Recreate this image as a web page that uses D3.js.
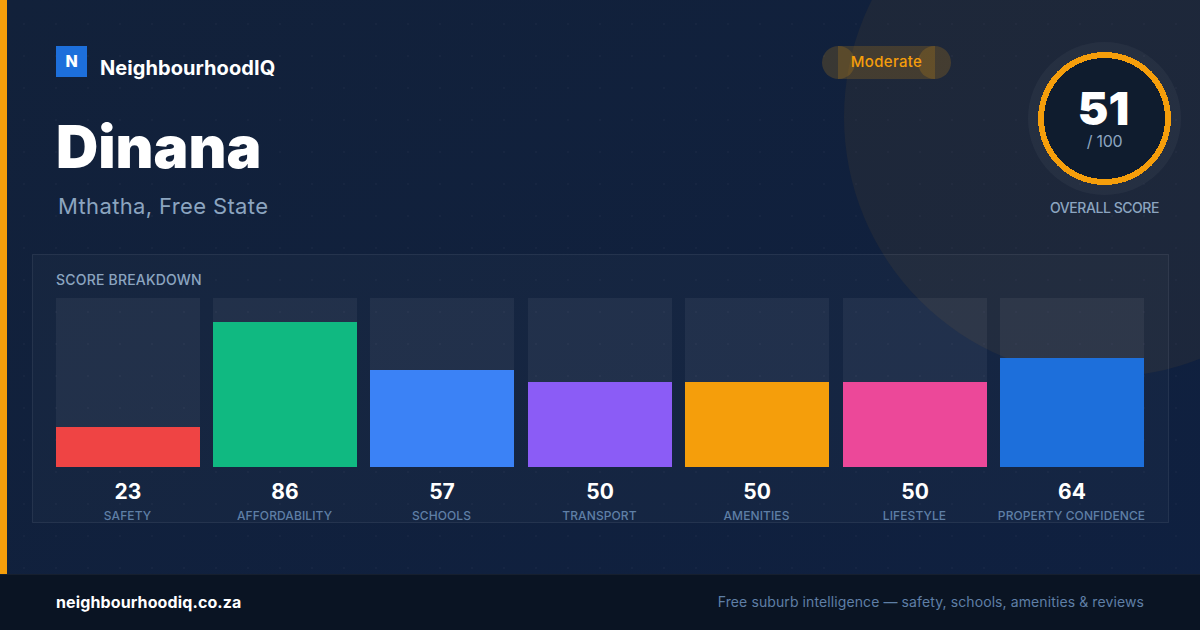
<!DOCTYPE html>
<html><head><meta charset="utf-8">
<script src="https://cdn.jsdelivr.net/npm/d3@7/dist/d3.min.js"></script>
<style>html,body{margin:0;padding:0;background:#10213a}svg{display:block}text{font-family:Inter,sans-serif}</style>
</head><body><svg id="c" width="1200" height="630"></svg>
<script>
const categories=["SAFETY","AFFORDABILITY","SCHOOLS","TRANSPORT","AMENITIES","LIFESTYLE","PROPERTY CONFIDENCE"];
const scores=[23,86,57,50,50,50,64];
const barLevels=[23.67,85.8,57.4,50.3,50.3,50.3,64.5];
const barColors=["#ef4444","#10b981","#3b82f6","#8b5cf6","#f59e0b","#ec4899","#1d6fdb"];
const overall=[51];
const suburb="Dinana", place="Mthatha, Free State", brand="NeighbourhoodIQ", rating="Moderate";
const footerLeft="neighbourhoodiq.co.za", footerRight="Free suburb intelligence — safety, schools, amenities & reviews";

const svg=d3.select("#c");
const defs=svg.append("defs");
const g=defs.append("linearGradient").attr("id","bg").attr("x1",0).attr("y1",0).attr("x2",1).attr("y2",1);
g.append("stop").attr("offset","0%").attr("stop-color","#12213a");
g.append("stop").attr("offset","100%").attr("stop-color","#0f2040");
const p=defs.append("pattern").attr("id","dots").attr("width",32).attr("height",32).attr("patternUnits","userSpaceOnUse");
p.append("circle").attr("cx",24).attr("cy",24).attr("r",1).attr("fill","#fff").attr("opacity",.03);

const T=(x,y,s,size,weight,fill,anchor="start",extra={})=>{
  const t=svg.append("text").attr("x",x).attr("y",y).text(s).attr("font-size",size).attr("font-weight",weight).attr("fill",fill).attr("text-anchor",anchor);
  Object.entries(extra).forEach(([k,v])=>t.attr(k,v));return t;};

svg.append("rect").attr("width",1200).attr("height",630).attr("fill","url(#bg)");
svg.append("rect").attr("width",1200).attr("height",630).attr("fill","url(#dots)");
svg.append("circle").attr("cx",1104).attr("cy",117).attr("r",260).attr("fill","#f59e0b").attr("opacity",.06);
svg.append("rect").attr("x",0).attr("y",0).attr("width",7).attr("height",630).attr("fill","#f59e0b");

// brand
svg.append("rect").attr("x",56).attr("y",46).attr("width",31).attr("height",31).attr("fill","#1d6fdb");
T(71.5,67,"N",16,800,"#fff","middle");
T(100,75,brand,20,700,"#fff",undefined,{"letter-spacing":.07});
T(56,167.5,suburb,58.5,900,"#fff");
T(58,214,place,22,400,"#8ca5c0",undefined,{"letter-spacing":.36});

// pill
const pill=svg.append("g").attr("fill","#f59e0b").attr("fill-opacity",.18);
pill.append("circle").attr("cx",838.5).attr("cy",62.5).attr("r",16.5);
pill.append("circle").attr("cx",934.5).attr("cy",62.5).attr("r",16.5);
pill.append("rect").attr("x",838).attr("y",46).attr("width",97).attr("height",33);
T(886.5,67,rating,15,500,"#f59e0b","middle",{"letter-spacing":.3});

// gauge
const cx=1104.5, cy=118.5;
svg.append("circle").attr("cx",cx).attr("cy",cy).attr("r",76.5).attr("fill","#fff").attr("opacity",.04);
svg.append("circle").attr("cx",cx).attr("cy",cy).attr("r",66).attr("fill","#0f1c2e");
const arc=d3.arc().innerRadius(60.5).outerRadius(66.5).startAngle(0).endAngle(2*Math.PI);
svg.append("path").attr("transform",`translate(${cx},${cy})`).attr("d",arc()).attr("fill","#f59e0b").attr("shape-rendering","crispEdges");
T(cx-1,125,overall[0],46,900,"#fff","middle");
T(cx,147,"/ 100",16,400,"#8ca5c0","middle",{"letter-spacing":-.3});
T(cx,213,"OVERALL SCORE",14,500,"#8ca5c0","middle",{"letter-spacing":-.45});

// panel
svg.append("rect").attr("x",32.5).attr("y",254.5).attr("width",1136).attr("height",268).attr("fill","#fff").attr("fill-opacity",.025).attr("stroke","#fff").attr("stroke-opacity",.08);
T(56,285,"SCORE BREAKDOWN",14,500,"#8ca5c0",undefined,{"letter-spacing":.2});

const x=d3.scaleBand().domain(categories).range([56,1144.4]).paddingInner(13.4/157.4);
const y=d3.scaleLinear().domain([0,100]).range([467,298]);
const data=categories.map((c,i)=>({c,v:scores[i],l:barLevels[i],col:barColors[i]}));
const bx=d=>Math.floor(x(d.c)), bw=Math.floor(x.bandwidth());
const grp=svg.append("g").selectAll("g").data(data).join("g");
grp.append("rect").attr("x",bx).attr("y",y(100)).attr("width",bw).attr("height",y(0)-y(100)).attr("fill","#fff").attr("fill-opacity",.055);
grp.append("rect").attr("x",bx).attr("y",d=>Math.round(y(d.l))).attr("width",bw).attr("height",d=>y(0)-Math.round(y(d.l))).attr("fill",d=>d.col);
grp.append("text").attr("x",d=>bx(d)+bw/2).attr("y",499).attr("text-anchor","middle").attr("font-size",21).attr("font-weight",700).attr("fill","#fff").text(d=>d.v);
grp.append("text").attr("x",d=>bx(d)+bw/2-.5).attr("y",520).attr("text-anchor","middle").attr("font-size",12).attr("font-weight",500).attr("fill","#5f7fa6").attr("letter-spacing",.1).text(d=>d.c);

// footer
svg.append("rect").attr("x",0).attr("y",574).attr("width",1200).attr("height",56).attr("fill","#0a1423");
svg.append("rect").attr("x",0).attr("y",574).attr("width",1200).attr("height",1).attr("fill","#fff").attr("fill-opacity",.05);
T(56,608,footerLeft,16,700,"#fff",undefined,{"letter-spacing":.12});
T(1144,607,footerRight,14,400,"#5f7fa6","end",{"letter-spacing":.1});
</script></body></html>
